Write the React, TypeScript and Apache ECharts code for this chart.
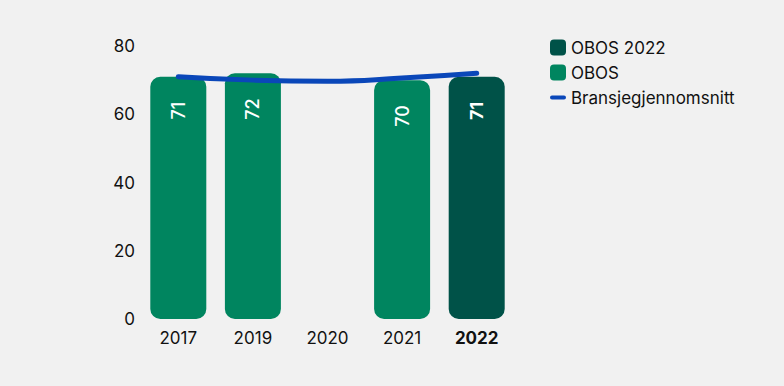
import React, { useEffect, useRef } from "react";
import * as echarts from "echarts";

const categories = ["2017", "2019", "2020", "2021", "2022"];
const obos2022 = [null, null, null, null, 71];
const obos = [71, 72, null, 70, null];
const bransje = [71, 70, 69.7, 70.6, 72];
const yTicks = [0, 20, 40, 60, 80];

const FONT = "Inter, 'Noto Sans', sans-serif";
const GREEN = "#00855f";
const DARK = "#005248";
const BLUE = "#0a47b9";

export default function App() {
  const ref = useRef<HTMLDivElement>(null);
  useEffect(() => {
    document.body.style.margin = "0";
    document.body.style.background = "#f1f1f1";
    const chart = echarts.init(ref.current!, null, { renderer: "svg" });
    const label = (bold: boolean) => ({
      show: true,
      position: "insideTop",
      rotate: 90,
      distance: 25,
      align: "right",
      verticalAlign: "middle",
      color: "#ffffff",
      fontSize: 18,
      fontFamily: FONT,
      fontWeight: bold ? "bold" : 500,
    });
    chart.setOption({
      animation: false,
      backgroundColor: "#f1f1f1",
      textStyle: { fontFamily: FONT },
      grid: { left: 141, right: 270, top: 46, bottom: 67 },
      legend: {
        left: 545,
        top: 34,
        orient: "vertical",
        itemWidth: 16,
        itemHeight: 16,
        itemGap: 8,
        textStyle: { fontSize: 17, color: "#111", fontFamily: FONT },
        data: [
          { name: "OBOS 2022", icon: "roundRect" },
          { name: "OBOS", icon: "roundRect" },
          { name: "Bransjegjennomsnitt", icon: "path://M2,0 H14 A2,2 0 0 1 14,4 H2 A2,2 0 0 1 2,0 Z" },
        ],
      },
      xAxis: {
        type: "category",
        data: categories,
        axisLine: { show: false },
        axisTick: { show: false },
        axisLabel: {
          interval: 0,
          fontSize: 17,
          color: "#111",
          margin: 10,
          fontFamily: FONT,
          formatter: (v: string) => (v === "2022" ? "{b|" + v + "}" : v),
          rich: { b: { fontWeight: "bold", fontSize: 17, color: "#111", fontFamily: FONT } },
        },
      },
      yAxis: {
        type: "value",
        min: yTicks[0],
        max: yTicks[yTicks.length - 1],
        interval: 20,
        splitLine: { show: false },
        axisLine: { show: false },
        axisTick: { show: false },
        axisLabel: { fontSize: 17, color: "#111", margin: 6, fontFamily: FONT },
      },
      series: [
        {
          name: "OBOS 2022",
          type: "bar",
          data: obos2022,
          barWidth: 56,
          barGap: "-100%",
          itemStyle: { color: DARK, borderRadius: 10 },
          label: label(true),
        },
        {
          name: "OBOS",
          type: "bar",
          data: obos,
          barWidth: 56,
          barGap: "-100%",
          itemStyle: { color: GREEN, borderRadius: 10 },
          label: label(false),
        },
        {
          name: "Bransjegjennomsnitt",
          type: "line",
          data: bransje,
          smooth: true,
          showSymbol: false,
          symbol: "none",
          lineStyle: { color: BLUE, width: 5, cap: "round" },
          itemStyle: { color: BLUE },
          z: 5,
        },
      ],
    });
    return () => chart.dispose();
  }, []);
  return <div ref={ref} style={{ width: 784, height: 386 }} />;
}
